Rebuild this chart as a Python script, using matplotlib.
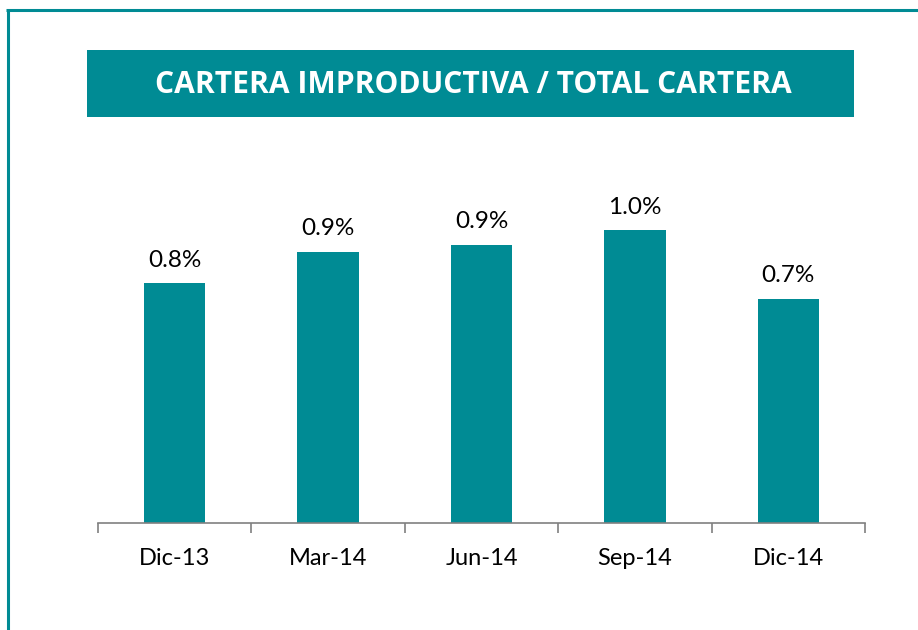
import matplotlib
matplotlib.use("Agg")
import matplotlib.pyplot as plt
from matplotlib.patches import Rectangle
from matplotlib.lines import Line2D

categories = ["Dic-13", "Mar-14", "Jun-14", "Sep-14", "Dic-14"]
values = [0.786, 0.888, 0.911, 0.960, 0.734]
labels = ["0.8%", "0.9%", "0.9%", "1.0%", "0.7%"]
title = "CARTERA IMPRODUCTIVA / TOTAL CARTERA"

TEAL = "#008B94"
W, H = 918, 630
fig = plt.figure(figsize=(W / 100, H / 100), dpi=100)

def fx(px):
    return px / W

def fy(py):
    return 1 - py / H

# outer border (left and top)
fig.add_artist(Line2D([fx(7.5), fx(7.5)], [fy(8.5), fy(H + 5)], color=TEAL, lw=2.2,
                      transform=fig.transFigure, solid_capstyle="butt"))
fig.add_artist(Line2D([fx(6.4), fx(W + 5)], [fy(9.5), fy(9.5)], color=TEAL, lw=2.2,
                      transform=fig.transFigure, solid_capstyle="butt"))

# title box
fig.add_artist(Rectangle((fx(87), fy(117)), fx(854) - fx(87), fy(50) - fy(117),
                         facecolor=TEAL, edgecolor="none", transform=fig.transFigure))
fig.text(fx(473.5), fy(85), title, color="white", fontsize=21.6, fontweight="bold",
         family="Open Sans", ha="center", va="center")

ax = fig.add_axes([fx(98), fy(523), fx(865) - fx(98), fy(523 - 1.2 * 305.2) - fy(523)])
x = range(len(categories))
ax.bar(x, values, width=0.40, color=TEAL)
ax.set_xlim(-0.5, len(categories) - 0.5)
ax.set_ylim(0, 1.2)
for xi, v, lab in zip(x, values, labels):
    ax.annotate(lab, (xi, v), xytext=(0, 9), textcoords="offset points",
                ha="center", va="bottom", fontsize=17.5, family="Lato", color="black")
for s in ["top", "right", "left"]:
    ax.spines[s].set_visible(False)
ax.spines["bottom"].set_color("#808080")
ax.spines["bottom"].set_linewidth(1.2)
ax.set_yticks([])
ax.set_xticks([i - 0.5 for i in range(len(categories) + 1)])
ax.set_xticklabels([])
ax.set_xticks(list(x), minor=True)
ax.set_xticklabels(categories, minor=True, fontsize=17, family="Lato", color="black")
ax.tick_params(axis="x", which="major", length=7, width=1.2, color="#808080", direction="out")
ax.tick_params(axis="x", which="minor", length=0, pad=18)

fig.savefig("out.png", dpi=100)
